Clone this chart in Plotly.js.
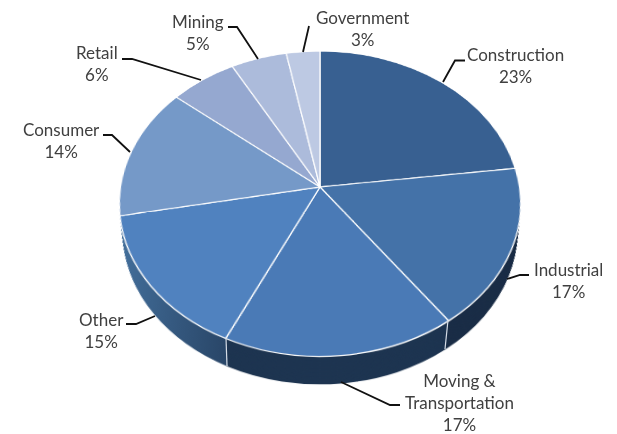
<!DOCTYPE html>
<html>
<head>
<meta charset="utf-8">
<script src="https://cdn.plot.ly/plotly-3.0.1.min.js"></script>
<style>
html,body{margin:0;padding:0;background:#fff;width:617px;height:434px;overflow:hidden}
#stage{position:relative;width:617px;height:434px;overflow:hidden}
/* the disc is laid flat with a camera tilt, so the apex sits off the ellipse centre as in the reference */
#pie{position:absolute;left:-30px;top:-163px;width:700px;height:700px;
     transform-origin:350px 350px;transform:perspective(1190px) rotateX(40.9deg)}
#labels{position:absolute;left:0;top:0;width:617px;height:434px}
</style>
</head>
<body>
<div id="stage"><div id="pie"></div><div id="labels"></div></div>
<script>
// ---- data ----
const categories = ["Construction","Industrial","Moving &<br>Transportation","Other","Consumer","Retail","Mining","Government"];
const shares = [23,17,17,15,14,6,5,3];
// ---- styles ----
const topColors = ["#386091","#4472a8","#4a7ab6","#5082bf","#7599c8","#95a8d0","#acbbdb","#bdc9e3"];
const wallColors = ["#1b2e47","#1b2e47","#1e3551","#36598a","#42709f","#42709f","#42709f","#42709f"];
const labelAnchors = [[515,65.5],[568,280],[459,402],[101,330.5],[61,140.5],[97,63.5],[198,32.5],[362,28.5]];
const leaders = [
  [[443,82],[455,60.5],[465,60.5]],
  [[507,279],[520,275],[529,275]],
  [[341,382],[390,405],[400,405]],
  [[155,316],[136,324],[126,324]],
  [[130,152],[112,135],[103,135]],
  [[201,80],[132,59],[122,59]],
  [[258,59],[237,27],[228,27]],
  [[303,52],[309,26]]
];
const wallBreaks = [[[226,338],[227,366]],[[448,320],[445,349]]];

const side = 700, radius = 199.5, depth = 36, taper = 0.2;
const discTrace = (shift, colors, lineWidth) => {
  const r = radius - shift*taper;
  return {
    type: "pie",
    values: shares,
    labels: categories,
    sort: false,
    direction: "clockwise",
    rotation: 0,
    textinfo: "none",
    hoverinfo: "skip",
    showlegend: false,
    domain: {x: [0.5 - r/side, 0.5 + r/side], y: [0.5 - (r + shift)/side, 0.5 + (r - shift)/side]},
    marker: {colors: colors, line: {color: "#ffffff", width: lineWidth}}
  };
};
const traces = [];
for (let s = depth; s >= 1; s--) traces.push(discTrace(s, wallColors, 0));
traces.push(discTrace(0, topColors, 1.3));

const cfg = {staticPlot: true, displayModeBar: false};
Plotly.newPlot("pie", traces, {
  width: side, height: side,
  margin: {l:0,r:0,t:0,b:0,pad:0},
  paper_bgcolor: "rgba(0,0,0,0)", plot_bgcolor: "rgba(0,0,0,0)",
  showlegend: false
}, cfg).then(gd => {
  // the "Other" wall fades from mid blue to navy along its length
  const svg = gd.querySelector("svg.main-svg");
  const NS = "http://www.w3.org/2000/svg";
  const defs = document.createElementNS(NS, "defs");
  const g = document.createElementNS(NS, "linearGradient");
  g.setAttribute("id", "otherWall");
  g.setAttribute("gradientUnits", "userSpaceOnUse");
  g.setAttribute("x1", 150); g.setAttribute("x2", 266);
  g.setAttribute("y1", 0); g.setAttribute("y2", 0);
  [["0", "#45729f"], ["1", "#294668"]].forEach(([o, c]) => {
    const st = document.createElementNS(NS, "stop");
    st.setAttribute("offset", o); st.setAttribute("stop-color", c);
    g.appendChild(st);
  });
  defs.appendChild(g); svg.insertBefore(defs, svg.firstChild);
  const wallGroups = [...gd.querySelectorAll(".pielayer .trace")].slice(0, -1);
  wallGroups.forEach(t => {
    const p = t.querySelectorAll(".slice path.surface")[3];
    if (p) p.style.fill = "url(#otherWall)";
  });
});

const W = 617, H = 434;
const px = p => [p[0]/W, 1 - p[1]/H];
const polyShape = (pts, color, width) => ({
  type: "path", xref: "paper", yref: "paper",
  path: pts.map((p,i) => (i ? "L" : "M") + px(p)[0] + "," + px(p)[1]).join(" "),
  line: {color: color, width: width}
});
const annotations = categories.map((c,i) => ({
  xref: "paper", yref: "paper",
  x: labelAnchors[i][0]/W, y: 1 - labelAnchors[i][1]/H,
  xanchor: "center", yanchor: "middle", align: "center",
  showarrow: false,
  text: c + "<br>" + shares[i] + "%",
  font: {family: "Lato, Carlito, sans-serif", size: 17, color: "#404040"}
}));
annotations.push({xref:"paper",yref:"paper",x:3/W,y:1-375/H,xanchor:"right",yanchor:"middle",
  showarrow:false,text:"n",font:{family:"Lato, sans-serif",size:17,color:"#404040"}});
Plotly.newPlot("labels", [], {
  width: W, height: H,
  margin: {l:0,r:0,t:0,b:0,pad:0},
  paper_bgcolor: "rgba(0,0,0,0)", plot_bgcolor: "rgba(0,0,0,0)",
  xaxis: {visible:false}, yaxis: {visible:false},
  shapes: wallBreaks.map(b => polyShape(b,"#d5dce6",1.2)).concat(leaders.map(l => polyShape(l,"#111111",1.8))),
  annotations: annotations
}, cfg);
</script>
</body>
</html>
